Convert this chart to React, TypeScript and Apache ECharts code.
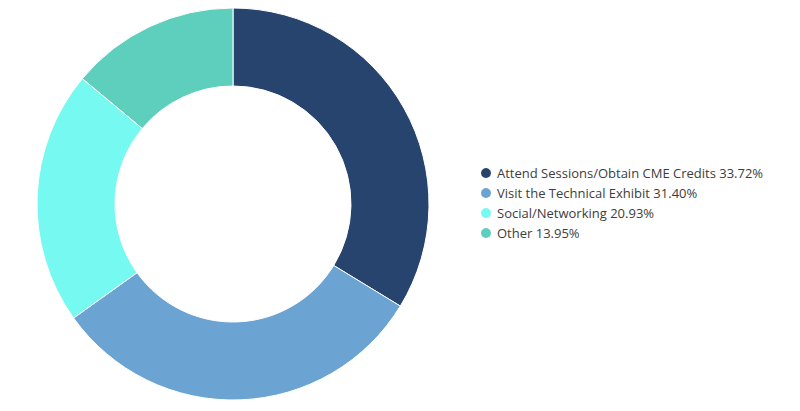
import React, { useEffect, useRef } from "react";
import * as echarts from "echarts";

const categories = [
  "Attend Sessions/Obtain CME Credits",
  "Visit the Technical Exhibit",
  "Social/Networking",
  "Other",
];
const counts = [29, 27, 18, 12];
const colors = ["#27446f", "#6ba3d3", "#76f9f1", "#5dcfbc"];

export default function App() {
  const ref = useRef<HTMLDivElement>(null);
  useEffect(() => {
    if (!ref.current) return;
    const chart = echarts.init(ref.current, undefined, { renderer: "svg" });
    const total = counts.reduce((a, b) => a + b, 0);
    const pct: Record<string, string> = {};
    categories.forEach((c, i) => {
      pct[c] = ((counts[i] / total) * 100).toFixed(2) + "%";
    });
    chart.setOption({
      animation: false,
      color: colors,
      legend: {
        orient: "vertical",
        left: 474,
        top: 161,
        icon: "circle",
        itemWidth: 12,
        itemHeight: 12,
        itemGap: 6,
        textStyle: {
          fontFamily: "Open Sans",
          fontSize: 13,
          lineHeight: 14,
          color: "#3d3d3d",
        },
        formatter: (name: string) => `${name} ${pct[name]}`,
      },
      series: [
        {
          type: "pie",
          center: [233, 204],
          radius: [118, 196],
          startAngle: 90,
          clockwise: true,
          label: { show: false },
          labelLine: { show: false },
          itemStyle: { borderColor: "#ffffff", borderWidth: 1 },
          emphasis: { disabled: true },
          data: categories.map((c, i) => ({ name: c, value: counts[i] })),
        },
      ],
    });
    return () => chart.dispose();
  }, []);
  return (
    <div
      ref={ref}
      style={{ width: 800, height: 411, position: "absolute", left: 0, top: 0 }}
    />
  );
}
